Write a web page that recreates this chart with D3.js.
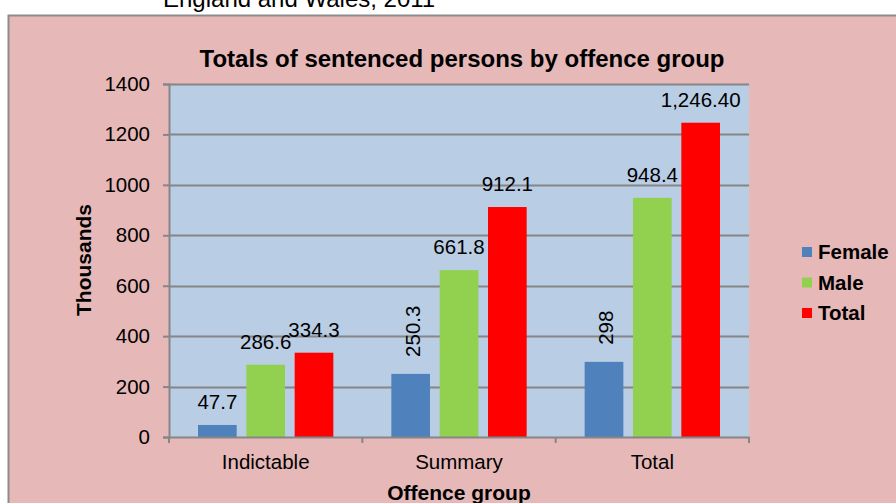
<!DOCTYPE html>
<html>
<head>
<meta charset="utf-8">
<script src="https://cdn.jsdelivr.net/npm/d3@7"></script>
<style>
  body { margin: 0; background: #fff; }
  text { font-family: "Liberation Sans", Arial, sans-serif; fill: #000; }
</style>
</head>
<body>
<script>
// data
var groups = ["Indictable", "Summary", "Total"];
var seriesNames = ["Female", "Male", "Total"];
var female = [47.7, 250.3, 298];
var male = [286.6, 661.8, 948.4];
var total = [334.3, 912.1, 1246.4];
var labelText = [["47.7", "250.3", "298"], ["286.6", "661.8", "948.4"], ["334.3", "912.1", "1,246.40"]];
var rotated = [[false, true, true], [false, false, false], [false, false, false]];
var yTicks = [0, 200, 400, 600, 800, 1000, 1200, 1400];
var colors = ["#4F81BD", "#92D050", "#FF0000"];

var width = 896, height = 503;
var plot = {left: 169, right: 749, top: 84, bottom: 437};
var fs = "20.5px";

var svg = d3.select("body").append("svg")
    .attr("width", width)
    .attr("height", height);

// subtitle cut off at the top
svg.append("text")
    .attr("x", 163).attr("y", 7)
    .style("font-size", "24px")
    .text("England and Wales, 2011");

// chart area
svg.append("rect")
    .attr("x", 8.5).attr("y", 15.5)
    .attr("width", 900).attr("height", 500)
    .attr("fill", "#E6B8B7")
    .attr("stroke", "#8C8C8C")
    .attr("stroke-width", 2);

svg.append("rect")
    .attr("x", plot.left).attr("y", plot.top)
    .attr("width", plot.right - plot.left).attr("height", plot.bottom - plot.top)
    .attr("fill", "#B9CDE5");

var y = d3.scaleLinear().domain([0, 1400]).range([plot.bottom, plot.top]);
var x0 = d3.scaleBand().domain(groups).range([plot.left, plot.right]).paddingInner(0).paddingOuter(0);
var x1 = d3.scaleBand().domain(seriesNames).range([29, x0.bandwidth() - 29]).paddingInner(0.2).paddingOuter(0);

// gridlines
svg.append("g").selectAll("line")
    .data(yTicks.slice(1))
    .enter().append("line")
    .attr("x1", plot.left).attr("x2", plot.right)
    .attr("y1", function(d) { return Math.round(y(d)) + 0.5; })
    .attr("y2", function(d) { return Math.round(y(d)) + 0.5; })
    .attr("stroke", "#868686")
    .attr("stroke-width", 2);

var values = [female, male, total];
var data = [];
groups.forEach(function(g, i) {
  seriesNames.forEach(function(s, j) {
    data.push({group: g, series: s, si: j, gi: i, value: values[j][i], label: labelText[j][i], rot: rotated[j][i]});
  });
});

var bars = svg.append("g").selectAll("g")
    .data(data)
    .enter().append("g");

bars.append("rect")
    .attr("x", function(d) { return x0(d.group) + x1(d.series); })
    .attr("y", function(d) { return y(d.value); })
    .attr("width", x1.bandwidth())
    .attr("height", function(d) { return y(0) - y(d.value); })
    .attr("fill", function(d) { return colors[d.si]; });

bars.append("text")
    .attr("transform", function(d) {
      var cx = x0(d.group) + x1(d.series) + x1.bandwidth() / 2;
      if (d.rot) return "translate(" + (cx + 2) + "," + (y(d.value) - 17) + ") rotate(-90)";
      return "translate(" + cx + "," + (y(d.value) - 16) + ")";
    })
    .attr("dy", function(d) { return d.rot ? "0.35em" : null; })
    .attr("text-anchor", function(d) { return d.rot ? "start" : "middle"; })
    .style("font-size", fs)
    .text(function(d) { return d.label; });

// axes
var yAxis = svg.append("g")
    .attr("transform", "translate(" + plot.left + ",0)")
    .call(d3.axisLeft(y).tickValues(yTicks).tickSize(6).tickPadding(13).tickFormat(d3.format("d")));
yAxis.selectAll("text").style("font-size", fs).attr("fill", "#000");

var xAxis = svg.append("g")
    .attr("transform", "translate(0," + plot.bottom + ")")
    .call(d3.axisBottom(x0).tickSize(0).tickPadding(17));
xAxis.selectAll("text").style("font-size", fs).attr("fill", "#000");

// category divider ticks
svg.append("g").selectAll("line")
    .data(groups.concat(["end"]))
    .enter().append("line")
    .attr("x1", function(d, i) { return plot.left + i * x0.bandwidth(); })
    .attr("x2", function(d, i) { return plot.left + i * x0.bandwidth(); })
    .attr("y1", plot.bottom).attr("y2", plot.bottom + 6)
    .attr("stroke", "#868686").attr("stroke-width", 2);

[yAxis, xAxis].forEach(function(a) {
  a.select(".domain").attr("stroke", "#868686").attr("stroke-width", 2);
  a.selectAll(".tick line").attr("stroke", "#868686").attr("stroke-width", 2);
});

// titles
svg.append("text")
    .attr("x", 462).attr("y", 67)
    .attr("text-anchor", "middle")
    .style("font-size", "24px").style("font-weight", "bold")
    .text("Totals of sentenced persons by offence group");

svg.append("text")
    .attr("transform", "translate(91,260) rotate(-90)")
    .attr("text-anchor", "middle")
    .style("font-size", "21px").style("font-weight", "bold")
    .text("Thousands");

svg.append("text")
    .attr("x", 459).attr("y", 500)
    .attr("text-anchor", "middle")
    .style("font-size", "21px").style("font-weight", "bold")
    .text("Offence group");

// legend
var legend = svg.append("g").selectAll("g")
    .data(seriesNames)
    .enter().append("g")
    .attr("transform", function(d, i) { return "translate(802," + (247 + i * 30.5) + ")"; });

legend.append("rect")
    .attr("width", 10).attr("height", 10)
    .attr("fill", function(d, i) { return colors[i]; });

legend.append("text")
    .attr("x", 16).attr("y", 12)
    .style("font-size", fs).style("font-weight", "bold")
    .text(function(d) { return d; });
</script>
</body>
</html>
